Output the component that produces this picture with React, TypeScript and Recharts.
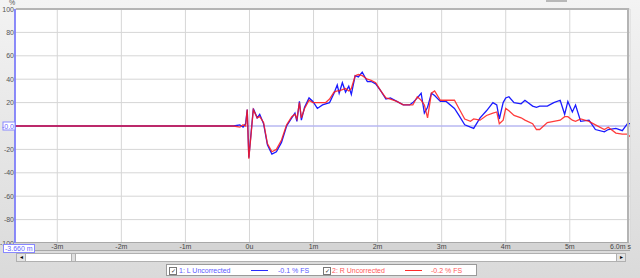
import { CartesianGrid, Line, LineChart, ReferenceLine, XAxis, YAxis } from "recharts"

// time in ms, amplitude in % FS
const timeMs = [
  -3.66, -0.25, -0.15, -0.1, -0.06, -0.035, -0.01, 0.06, 0.12, 0.16, 0.22, 0.28, 0.35, 0.42, 0.5,
  0.58, 0.66, 0.71, 0.74, 0.78, 0.81, 0.86, 0.93, 0.99, 1.06, 1.14, 1.19, 1.25, 1.32, 1.37, 1.4,
  1.45, 1.5, 1.55, 1.59, 1.65, 1.7, 1.76, 1.84, 1.9, 1.97, 2.05, 2.13, 2.2, 2.3, 2.4, 2.5, 2.55,
  2.62, 2.68, 2.73, 2.78, 2.84, 2.89, 2.98, 3.07, 3.2, 3.27, 3.36, 3.45, 3.5, 3.6, 3.7, 3.8, 3.86,
  3.9, 3.96, 4.0, 4.05, 4.13, 4.24, 4.3, 4.42, 4.48, 4.53, 4.65, 4.75, 4.85, 4.92, 4.97, 5.04,
  5.09, 5.17, 5.3, 5.4, 5.54, 5.6, 5.72, 5.82, 5.9, 5.94,
]

const leftPct = [
  0, 0, 1, -1, 2, 14, -27, 15, 7, 10, 2, -16, -24, -22, -14,
  0, 7, 11, 4, 21, 5, 16, 24, 21, 15, 18, 19, 20, 28, 35, 28,
  37, 29, 34, 27, 43, 42, 46, 38, 38, 36, 30, 23, 24, 21, 18, 18, 20,
  24, 28, 11, 16, 28, 26, 21, 21, 15, 9, 1, -1, -2, 7, 13, 20, 18,
  6, 20, 24, 25, 20, 19, 22, 17, 16, 17, 17, 20, 22, 10, 21, 12,
  18, 4, 5, -3, -5, -3, -2, -4, 2, 2,
]

const rightPct = [
  0, 0, -1, 1, 0, 14, -28, 14, 7, 8, 3, -15, -22, -20, -12,
  1, 8, 10, 6, 20, 7, 15, 22, 20, 20, 20, 20, 23, 29, 30, 30,
  31, 32, 30, 32, 43, 44, 43, 40, 39, 37, 30, 24, 23, 21, 18, 18, 18,
  25, 22, 18, 7, 28, 30, 22, 22, 22, 15, 6, 4, 6, 5, 9, 11, 12,
  2, 5, 15, 13, 9, 7, 5, 2, -3, -3, 3, 4, 5, 8, 8, 5,
  4, 6, 4, 1, -3, -1, -6, -7, -7, -9,
]

const xTicks = [-3, -2, -1, 0, 1, 2, 3, 4, 5, 5.94]
const xTickLabels = ["-3m", "-2m", "-1m", "0u", "1m", "2m", "3m", "4m", "5m", "6.0m s"]
const yTicks = [-100, -80, -60, -40, -20, 0, 20, 40, 60, 80, 100]

const data = timeMs.map((t, i) => ({ t, L: leftPct[i], R: rightPct[i] }))

const font = "'Liberation Sans', Arial, sans-serif"

function XTick(props: any) {
  const { x, y, payload, index } = props
  const last = index === xTicks.length - 1
  return (
    <text
      x={last ? x + 1 : x}
      y={y + 6}
      textAnchor={last ? "end" : "middle"}
      fontSize={7}
      fontFamily={font}
      fill="#444"
    >
      {xTickLabels[xTicks.indexOf(payload.value)]}
    </text>
  )
}

function YTick(props: any) {
  const { x, y, payload } = props
  if (payload.value === 0) {
    return (
      <g>
        <rect x={x - 12} y={y - 4} width={12} height={8} fill="#fff" stroke="#8888ff" strokeWidth={1} />
        <text x={x - 1} y={y + 2.5} textAnchor="end" fontSize={7} fontFamily={font} fill="#6666ff">
          -0.0
        </text>
      </g>
    )
  }
  return (
    <text x={x - 1} y={y + 2.5} textAnchor="end" fontSize={7} fontFamily={font} fill="#555">
      {payload.value}
    </text>
  )
}

export default function App() {
  return (
    <div
      style={{
        position: "fixed",
        left: 0,
        top: 0,
        width: 640,
        height: 278,
        background: "linear-gradient(#f3f3f3, #dadada)",
        fontFamily: font,
        overflow: "hidden",
      }}
    >
      {/* small button at top */}
      <div style={{ position: "absolute", left: 546, top: 0, width: 21, height: 2, background: "#b8b8b8" }} />
      {/* x axis band */}
      <div
        style={{
          position: "absolute",
          left: 15,
          top: 243,
          width: 615,
          height: 7,
          background: "#d4d4d4",
          borderBottom: "1px solid #a8a8a8",
        }}
      />
      <div style={{ position: "absolute", left: 9, top: -1, fontSize: 7, color: "#555" }}>%</div>
      <div style={{ position: "absolute" }}>
        <LineChart width={640} height={278} data={data} margin={{ top: 9, right: 10, left: 0, bottom: 27 }}>
          <CartesianGrid stroke="#d6d6d6" fill="#fff" strokeWidth={1} />
          <XAxis
            dataKey="t"
            type="number"
            domain={[-3.66, 5.94]}
            ticks={xTicks}
            allowDataOverflow
            height={8}
            tickSize={0}
            tickMargin={0}
            axisLine={false}
            tick={<XTick />}
            interval={0}
          />
          <YAxis
            type="number"
            domain={[-100, 100]}
            ticks={yTicks}
            width={15}
            tickSize={0}
            tickMargin={0}
            axisLine={{ stroke: "#6b6bff", strokeWidth: 1.5 }}
            tick={<YTick />}
            interval={0}
          />
          <ReferenceLine y={0} stroke="#a8a8ff" strokeWidth={1} />
          <Line dataKey="L" stroke="#1a1aff" strokeWidth={1.3} dot={false} isAnimationActive={false} />
          <Line dataKey="R" stroke="#ff1a1a" strokeWidth={1.3} strokeOpacity={0.85} dot={false} isAnimationActive={false} />
        </LineChart>
      </div>
      {/* plot frame */}
      <div
        style={{
          position: "absolute",
          left: 16,
          top: 8,
          width: 613,
          height: 235,
          borderTop: "2px solid #b4b4b4",
          borderRight: "2px solid #b4b4b4",
          borderBottom: "1px solid #a8a8a8",
          boxSizing: "border-box",
          pointerEvents: "none",
        }}
      />
      {/* start time box */}
      <div
        style={{
          position: "absolute",
          left: 3,
          top: 244,
          height: 7,
          lineHeight: "7px",
          padding: "0 1px",
          fontSize: 7,
          color: "#6666ff",
          border: "1px solid #8888ff",
          background: "#fff",
        }}
      >
        -3.660 m
      </div>
      {/* scrollbar */}
      <div
        style={{
          position: "absolute",
          left: 16,
          top: 253,
          width: 610,
          height: 9,
          background: "#fff",
          border: "1px solid #b0b0b0",
          boxSizing: "border-box",
        }}
      >
        <div style={{ position: "absolute", left: 0, top: 0, width: 8, height: 7, background: "#e4e4e4", borderRight: "1px solid #b0b0b0", fontSize: 6, lineHeight: "7px", textAlign: "center" }}>◂</div>
        <div style={{ position: "absolute", left: 54, top: 0, width: 3, height: 7, background: "#e0e0e0", borderLeft: "1px solid #b0b0b0", borderRight: "1px solid #b0b0b0" }} />
        <div style={{ position: "absolute", right: 0, top: 0, width: 8, height: 7, background: "#e4e4e4", borderLeft: "1px solid #b0b0b0", fontSize: 6, lineHeight: "7px", textAlign: "center" }}>▸</div>
      </div>
      {/* legend */}
      <div
        style={{
          position: "absolute",
          left: 166,
          top: 264,
          width: 311,
          height: 12,
          background: "#fff",
          border: "1px solid #9a9a9a",
          boxSizing: "border-box",
          fontSize: 7,
        }}
      >
        <div style={{ position: "absolute", left: 2, top: 2, width: 6, height: 6, border: "1px solid #777", fontSize: 6, lineHeight: "6px", textAlign: "center", color: "#333" }}>✓</div>
        <div style={{ position: "absolute", left: 12, top: 1, lineHeight: "9px", color: "#5a5aff" }}>1: L Uncorrected</div>
        <div style={{ position: "absolute", left: 84, top: 5, width: 17, height: 1, background: "#2a2aff" }} />
        <div style={{ position: "absolute", left: 111, top: 1, lineHeight: "9px", color: "#5a5aff" }}>-0.1 % FS</div>
        <div style={{ position: "absolute", left: 156, top: 2, width: 6, height: 6, border: "1px solid #777", fontSize: 6, lineHeight: "6px", textAlign: "center", color: "#333" }}>✓</div>
        <div style={{ position: "absolute", left: 165, top: 1, lineHeight: "9px", color: "#ff5a5a" }}>2: R Uncorrected</div>
        <div style={{ position: "absolute", left: 238, top: 5, width: 17, height: 1, background: "#ff2a2a" }} />
        <div style={{ position: "absolute", left: 264, top: 1, lineHeight: "9px", color: "#ff5a5a" }}>-0.2 % FS</div>
      </div>
    </div>
  )
}
